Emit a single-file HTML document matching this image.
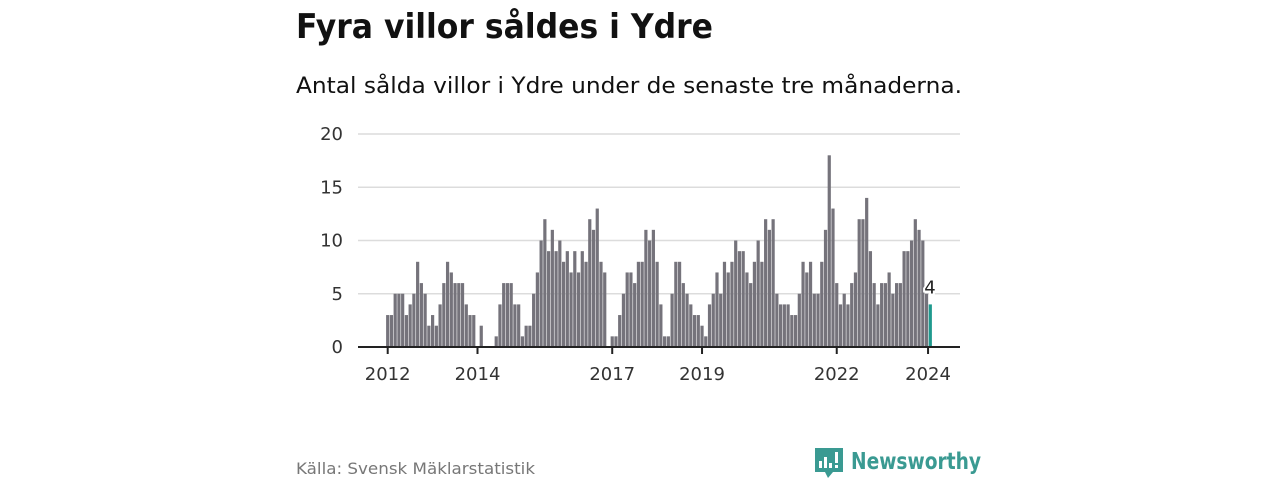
<!DOCTYPE html>
<html><head><meta charset="utf-8"><style>
html,body{margin:0;padding:0;background:#fff;width:1280px;height:480px;overflow:hidden}
svg{display:block}
text{font-family:"DejaVu Sans","Liberation Sans",sans-serif}
</style></head><body>
<svg id="chart" width="1280" height="480" viewBox="0 0 1280 480">
<text x="296" y="38" font-size="34" font-weight="bold" fill="#111" textLength="417" lengthAdjust="spacingAndGlyphs">Fyra villor såldes i Ydre</text>
<text x="296" y="93" font-size="22" fill="#111" textLength="666" lengthAdjust="spacingAndGlyphs">Antal sålda villor i Ydre under de senaste tre månaderna.</text>
<g id="grid"></g>
<g id="bars"></g>
<g id="xaxis"></g>
<text x="296" y="474" font-size="16" fill="#777" textLength="239" lengthAdjust="spacingAndGlyphs">Källa: Svensk Mäklarstatistik</text>
<g>
<path d="M815 448h28v24h-10l-5 6-3-6h-10z" fill="#3a9a92"/>
<rect x="819" y="461" width="3" height="7" fill="#fff"/><rect x="824" y="457" width="3" height="11" fill="#fff"/><rect x="829" y="463" width="3" height="5" fill="#fff"/><rect x="835" y="452" width="3" height="11" fill="#fff"/><rect x="835" y="465" width="3" height="3" fill="#fff"/>
<text x="851" y="469" font-size="23" font-weight="bold" fill="#3a9a92" font-family="Liberation Sans, sans-serif" textLength="130" lengthAdjust="spacingAndGlyphs">Newsworthy</text>
</g>
</svg>
<script>
const values = [3,3,5,5,5,3,4,5,8,6,5,2, 3,2,4,6,8,7,6,6,6,4,3,3, 0,2,0,0,0,1,4,6,6,6,4,4, 1,2,2,5,7,10,12,9,11,9,10,8, 9,7,9,7,9,8,12,11,13,8,7,0, 1,1,3,5,7,7,6,8,8,11,10,11, 8,4,1,1,5,8,8,6,5,4,3,3, 2,1,4,5,7,5,8,7,8,10,9,9, 7,6,8,10,8,12,11,12,5,4,4,4, 3,3,5,8,7,8,5,5,8,11,18,13, 6,4,5,4,6,7,12,12,14,9,6,4, 6,6,7,5,6,6,9,9,10,12,11,10, 5,4];
const yTicks = [0,5,10,15,20];
const yearLabels = [2012,2014,2017,2019,2022,2024];
const startYear = 2012;
const NS="http://www.w3.org/2000/svg";
const x0=387.7, step=3.742, yBase=347, yTop=134, yMax=20;
function xs(i){return x0+i*step;}
function ys(v){return yBase-(v/yMax)*(yBase-yTop);}
const grid=document.getElementById('grid'), bars=document.getElementById('bars'), xa=document.getElementById('xaxis');
function mk(tag,attrs,parent){const e=document.createElementNS(NS,tag);for(const k in attrs)e.setAttribute(k,attrs[k]);parent.appendChild(e);return e;}
yTicks.forEach(t=>{
  if(t>0){const l=mk('line',{x1:358,x2:960,y1:ys(t),y2:ys(t),stroke:'#dcdcdc','stroke-width':1.5},grid);
  
  }
  const tx=mk('text',{x:343,y:ys(t)+6,'text-anchor':'end','font-size':18,fill:'#333'},grid);
  tx.textContent=t;
  
  
});
values.forEach((v,i)=>{
  const last=i===values.length-1;
  const r=mk('rect',{x:xs(i)-1.6,y:ys(v),width:3.2,height:yBase-ys(v),fill:last?'#1f9a8e':'#75737b'},bars);
  
  
});
const li=values.length-1;
const vl=mk('text',{x:xs(li)-6,y:ys(values[li])-11,'font-size':18,fill:'#222',stroke:'#fff','stroke-width':4,'paint-order':'stroke'},bars);
vl.textContent=values[li];


const ax=mk('line',{x1:358,x2:960,y1:yBase,y2:yBase,stroke:'#222','stroke-width':2},xa);


yearLabels.forEach(y=>{
  const px=xs((y-startYear)*12)+(y===2024?1.5:0);
  const tk=mk('line',{x1:px,x2:px,y1:yBase,y2:yBase+7,stroke:'#222','stroke-width':2},xa);
  
  
  const t=mk('text',{x:px,y:380,'text-anchor':'middle','font-size':18,fill:'#333'},xa);
  t.textContent=y;
  
  
});
</script>
</body></html>
